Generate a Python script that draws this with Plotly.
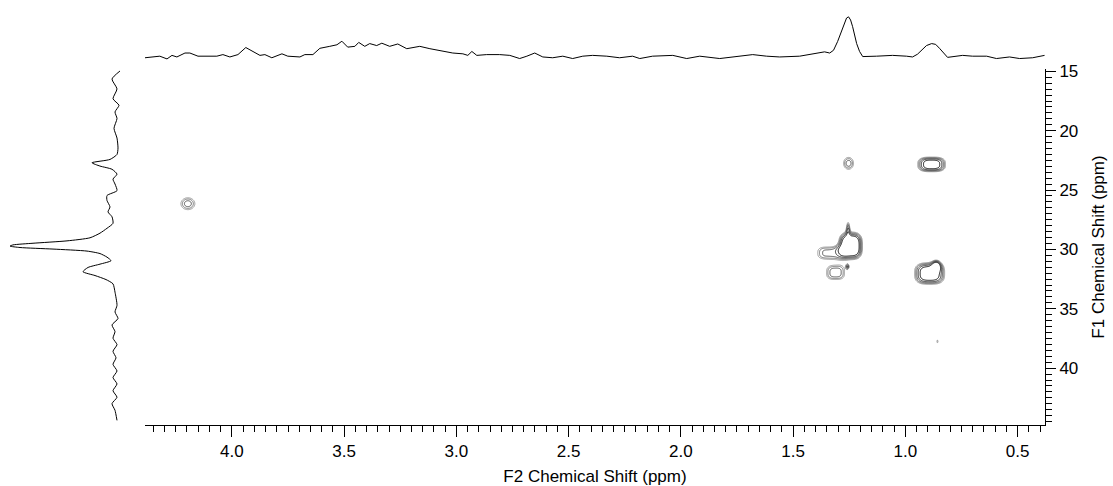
import numpy as np
import plotly.graph_objects as go

W, H = 1113, 486

# ---------------- data ----------------
# Top projection (F2), ppm and intensity (arb.)
top_ppm = [4.387, 4.321, 4.289, 4.267, 4.245, 4.209, 4.187, 4.151, 4.067, 4.040, 4.009, 3.973,
           3.938, 3.906, 3.875, 3.853, 3.822, 3.777, 3.751, 3.697, 3.675, 3.639, 3.608, 3.564,
           3.532, 3.510, 3.484, 3.452, 3.435, 3.408, 3.386, 3.355, 3.332, 3.297, 3.261, 3.221,
           3.199, 3.163, 3.118, 3.074, 3.016, 2.971, 2.949, 2.931, 2.909, 2.865, 2.807, 2.762,
           2.718, 2.686, 2.651, 2.615, 2.571, 2.526, 2.482, 2.437, 2.393, 2.330, 2.273, 2.215,
           2.183, 2.126, 2.036, 1.974, 1.916, 1.827, 1.751, 1.680, 1.618, 1.560, 1.471, 1.413,
           1.360, 1.337, 1.320, 1.302, 1.288, 1.275, 1.262, 1.253, 1.244, 1.235, 1.226, 1.217,
           1.204, 1.190, 1.128, 1.057, 0.995, 0.968, 0.946, 0.928, 0.906, 0.883, 0.865, 0.848,
           0.830, 0.812, 0.745, 0.701, 0.638, 0.594, 0.536, 0.491, 0.433, 0.380]
top_int = [-4, 0, -7, 2, -2, 8, 8, 0, 0, 4, -2, 4,
           22, 11, 2, 4, -4, 6, 0, -2, 4, 4, 20, 25,
           29, 38, 23, 25, 35, 25, 32, 27, 33, 25, 31, 19,
           22, 25, 19, 15, 8, 6, 2, 12, 2, 4, 4, 2,
           -6, 0, 8, -2, -4, 0, -6, 0, 2, 0, -4, 0,
           -6, 0, 2, -6, 0, -6, 0, 4, 0, -2, 0, 6,
           11, 8, 15, 37, 57, 80, 97, 100, 92, 75, 52, 32,
           12, -1, 0, 2, 0, -2, 5, 15, 27, 32, 30, 20,
           8, -3, 2, 0, 0, -6, -2, -6, -4, 2]

# Left projection (F1), ppm and intensity (arb.)
left_ppm = [14.97, 15.65, 16.48, 17.31, 17.86, 18.42, 18.97, 19.80, 20.62, 21.45, 22.00, 22.42,
            22.70, 22.98, 23.25, 23.66, 24.08, 24.49, 25.05, 25.46, 25.88, 26.42, 26.84, 27.25,
            27.80, 28.22, 28.63, 29.02, 29.28, 29.48, 29.62, 29.72, 29.84, 29.97, 30.14, 30.35,
            30.65, 30.95, 31.24, 31.52, 31.88, 32.20, 32.54, 32.90, 33.60, 34.71, 35.27, 35.82,
            36.36, 36.92, 37.48, 38.02, 38.58, 39.13, 39.68, 40.24, 40.79, 41.33, 41.90, 42.45,
            42.99, 43.55, 44.40]
left_int = [-5, 3, -2, 2, -4, 0, -2, 1, -2, -3, -2, 5,
            23, 15, 3, -2, 2, 0, -2, 8, 8, 5, 7, 3,
            2, 8, 15, 25, 48, 82, 102, 105, 95, 62, 28, 15,
            8, 4, 15, 27, 32, 20, 9, 2, 0, -2, 0, -3,
            3, 0, 2, -2, 2, -1, 2, -2, 2, -2, 2, -2,
            3, 0, -2]

# 2D cross peaks: F2 ppm, F1 ppm, width F2, width F1, log-intensity, shape exponent
pk_f2 = [4.196, 1.253, 0.883, 1.244, 1.345, 1.255, 1.311, 1.257, 0.892, 0.862, 0.857]
pk_f1 = [26.15, 22.75, 22.84, 29.70, 30.30, 28.10, 31.95, 31.45, 32.03, 31.30, 37.75]
pk_w2 = [0.049, 0.035, 0.068, 0.054, 0.064, 0.010, 0.054, 0.008, 0.072, 0.020, 0.006]
pk_w1 = [0.79, 0.79, 0.68, 1.18, 0.71, 0.70, 0.79, 0.25, 0.98, 0.45, 0.30]
pk_a = [0.40, 0.40, 0.75, 0.95, 0.35, 0.25, 0.40, 0.10, 0.80, 0.20, 0.15]
pk_p = [2, 2, 3, 3, 3, 2, 3, 2, 3, 2, 2]

x_ticks = [4.0, 3.5, 3.0, 2.5, 2.0, 1.5, 1.0, 0.5]
y_ticks = [15, 20, 25, 30, 35, 40]

X_RANGE = [4.387, 0.378]
Y_RANGE = [44.79, 14.8]

# ---------------- build contour grids ----------------
def grid(x0, x1, nx, y0, y1, ny):
    gx = np.linspace(x0, x1, nx)
    gy = np.linspace(y0, y1, ny)
    XX, YY = np.meshgrid(gx, gy)
    G = np.zeros_like(XX)
    for cx, cy, sx, sy, a, p in zip(pk_f2, pk_f1, pk_w2, pk_w1, pk_a, pk_p):
        G += np.exp(a) * np.exp(-(np.abs((XX - cx) / sx) ** p + np.abs((YY - cy) / sy) ** p))
    Z = np.round(np.log(G + 1e-9), 3)
    Z = np.maximum(Z, -5)
    return gx, gy, Z

grids = [grid(4.05, 4.33, 120, 23.5, 29.0, 120), grid(0.70, 1.55, 340, 20.0, 40.0, 420)]

px = lambda v: v / W
py = lambda v: 1 - v / H

fig = go.Figure()

for gx, gy, Z in grids:
    fig.add_trace(go.Contour(
        x=np.round(gx, 4), y=np.round(gy, 3), z=Z,
        contours=dict(start=0, end=0.6, size=0.15, coloring='lines'),
        colorscale=[[0, '#999999'], [1, '#111111']], zmin=0, zmax=0.6,
        line=dict(width=1), showscale=False, hoverinfo='skip',
        xaxis='x', yaxis='y'))

fig.add_trace(go.Scatter(x=top_ppm, y=top_int, mode='lines',
                         line=dict(color='black', width=1), xaxis='x', yaxis='y2',
                         hoverinfo='skip'))
fig.add_trace(go.Scatter(x=left_int, y=left_ppm, mode='lines',
                         line=dict(color='black', width=1, shape='spline', smoothing=0.6),
                         xaxis='x3', yaxis='y', hoverinfo='skip'))

FONT = 'Liberation Sans, Arial, sans-serif'

fig.update_layout(
    width=W, height=H, margin=dict(l=0, r=0, t=0, b=0),
    paper_bgcolor='white', plot_bgcolor='white', showlegend=False,
    font=dict(family=FONT, size=17, color='black'),
    xaxis=dict(domain=[px(145), px(1045)], range=X_RANGE, anchor='y',
               showgrid=False, zeroline=False, showline=True, linecolor='black', linewidth=1,
               ticks='outside', ticklen=11, tickwidth=1, tickcolor='black',
               tickvals=x_ticks, ticktext=['%.1f' % v for v in x_ticks],
               minor=dict(dtick=0.05, tick0=0, ticks='outside', ticklen=6, tickcolor='black', tickwidth=1),
               tickfont=dict(size=17),
               title=dict(text='F2 Chemical Shift (ppm)', font=dict(size=17), standoff=13)),
    yaxis=dict(domain=[py(425), py(63)], range=Y_RANGE, anchor='x', side='right',
               showgrid=False, zeroline=False, showline=True, linecolor='black', linewidth=1,
               ticks='outside', ticklen=10, tickwidth=1, tickcolor='black',
               tickvals=y_ticks, ticktext=[str(v) for v in y_ticks],
               minor=dict(dtick=0.5, tick0=0, ticks='outside', ticklen=6, tickcolor='black', tickwidth=1),
               tickfont=dict(size=17),
               title=dict(text='F1 Chemical Shift (ppm)', font=dict(size=17), standoff=14)),
    yaxis2=dict(domain=[py(58), 1], range=[-20, 125], anchor='x',
                visible=False, showgrid=False, zeroline=False),
    xaxis3=dict(domain=[0, px(130)], range=[115, -15], anchor='y',
                visible=False, showgrid=False, zeroline=False),
)

fig.write_html('out.html')
